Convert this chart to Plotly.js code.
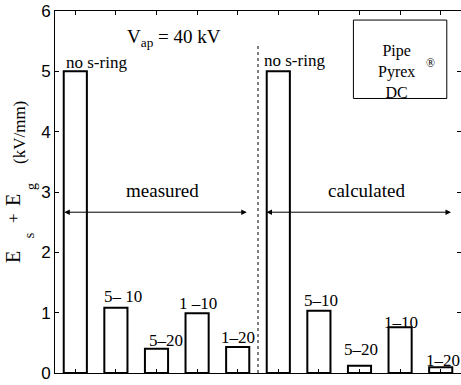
<!DOCTYPE html>
<html>
<head>
<meta charset="utf-8">
<script src="https://cdn.plot.ly/plotly-3.0.1.min.js"></script>
<style>html,body{margin:0;padding:0;background:#fff}#chart{width:461px;height:385px}</style>
</head>
<body>
<div id="chart"></div>
<script>
// ---- data ----
var positions = [1, 2, 3, 4, 5, 6, 7, 8, 9, 10];
var fieldValues = [5.0, 1.08, 0.40, 0.99, 0.43, 5.0, 1.03, 0.12, 0.76, 0.095];
var barLabels = ["no s-ring", "5\u2013 10", "5\u201320", "1 \u201310", "1\u201320",
                 "no s-ring", "5\u201310", "5\u201320", "1\u201310", "1\u201320"];
var groupNames = ["measured", "calculated"];
var legendLines = ["Pipe", "Pyrex", "DC"];
var yTicks = [0, 1, 2, 3, 4, 5, 6];
var arrowLevel = 2.665;

// ---- styling / layout offsets ----
var serif = "Liberation Serif, Times New Roman, serif";
var sans = "Liberation Sans, Arial, Helvetica, sans-serif";
var labelShift = [[21, 9], [7, 11], [9, 8], [1, 10], [0, 10],
                  [16, 11], [2, 10], [1, 16], [1, 5], [2, 7]];

var bars = {
  type: "bar",
  x: positions,
  y: fieldValues,
  width: 0.57,
  marker: {color: "#ffffff", line: {color: "#000000", width: 2}},
  hoverinfo: "skip"
};

var annotations = [];
for (var i = 0; i < positions.length; i++) {
  annotations.push({
    x: positions[i], y: fieldValues[i], xref: "x", yref: "y",
    text: barLabels[i], showarrow: false,
    xanchor: "center", yanchor: "middle",
    xshift: labelShift[i][0], yshift: labelShift[i][1],
    font: {family: serif, size: 17, color: "#000"}
  });
}
// group double arrows
annotations.push({x: 0.73, y: arrowLevel, ax: 5.26, ay: arrowLevel, xref: "x", yref: "y",
  axref: "x", ayref: "y", text: "", showarrow: true, arrowside: "end+start",
  arrowhead: 2, arrowsize: 1.1, arrowwidth: 1, arrowcolor: "#000", standoff: 0, startstandoff: 0});
annotations.push({x: 5.71, y: arrowLevel, ax: 10.29, ay: arrowLevel, xref: "x", yref: "y",
  axref: "x", ayref: "y", text: "", showarrow: true, arrowside: "end+start",
  arrowhead: 2, arrowsize: 1.1, arrowwidth: 1, arrowcolor: "#000", standoff: 0, startstandoff: 0});
annotations.push({x: 3.14, y: 3.03, xref: "x", yref: "y", text: groupNames[0], showarrow: false,
  font: {family: serif, size: 19, color: "#000"}});
annotations.push({x: 8.18, y: 3.03, xref: "x", yref: "y", text: groupNames[1], showarrow: false,
  font: {family: serif, size: 19, color: "#000"}});
// V_ap
annotations.push({x: 3.43, y: 5.55, xref: "x", yref: "y",
  text: "V<sub>ap</sub> = 40 kV", showarrow: false, xanchor: "center", yanchor: "middle",
  font: {family: serif, size: 19, color: "#000"}});
// legend box text
annotations.push({x: 8.9, y: 5.0, xref: "x", yref: "y", text: legendLines.join("<br>"),
  showarrow: false, align: "center", xanchor: "center", yanchor: "middle",
  font: {family: serif, size: 16, color: "#000"}});
annotations.push({x: 9.74, y: 5.14, xref: "x", yref: "y", text: "\u00ae", showarrow: false,
  font: {family: serif, size: 12, color: "#000"}});
// y-axis title pieces
var ytitle = [
  ["E", -0.1034, 0.3204, 20], ["s", -0.064, 0.378, 14], ["+", -0.1034, 0.428, 17],
  ["E", -0.1034, 0.478, 20], ["g", -0.0567, 0.5166, 14], ["(kV/mm)", -0.0862, 0.663, 17]
];
ytitle.forEach(function (p) {
  annotations.push({x: p[1], y: p[2], xref: "paper", yref: "paper", text: p[0],
    showarrow: false, textangle: -90, xanchor: "center", yanchor: "middle",
    font: {family: serif, size: p[3], color: "#000"}});
});

var layout = {
  width: 461, height: 385,
  margin: {l: 55, r: 0, t: 11, b: 12, pad: 0},
  paper_bgcolor: "#fff", plot_bgcolor: "#fff",
  showlegend: false,
  xaxis: {range: [0.5, 10.5], tickvals: positions, showticklabels: false,
    ticks: "inside", ticklen: 4, tickcolor: "#000", mirror: "allticks",
    showline: true, linecolor: "#000", linewidth: 1, showgrid: false, zeroline: false, fixedrange: true},
  yaxis: {range: [0, 6], tickvals: yTicks, ticks: "inside", ticklen: 4, tickcolor: "#000",
    mirror: "allticks", showline: true, linecolor: "#000", linewidth: 1, showgrid: false,
    zeroline: false, tickfont: {family: sans, size: 17, color: "#000"}, fixedrange: true},
  shapes: [
    {type: "line", xref: "x", yref: "y", x0: 5.5, x1: 5.5, y0: 0, y1: 5.44,
     line: {color: "#000", width: 1, dash: "3px,3px"}},
    {type: "rect", xref: "x", yref: "y", x0: 7.85, x1: 10.15, y0: 4.55, y1: 5.85,
     line: {color: "#000", width: 1}, fillcolor: "rgba(0,0,0,0)"}
  ],
  annotations: annotations
};

Plotly.newPlot("chart", [bars], layout, {displayModeBar: false, staticPlot: true});
</script>
</body>
</html>
